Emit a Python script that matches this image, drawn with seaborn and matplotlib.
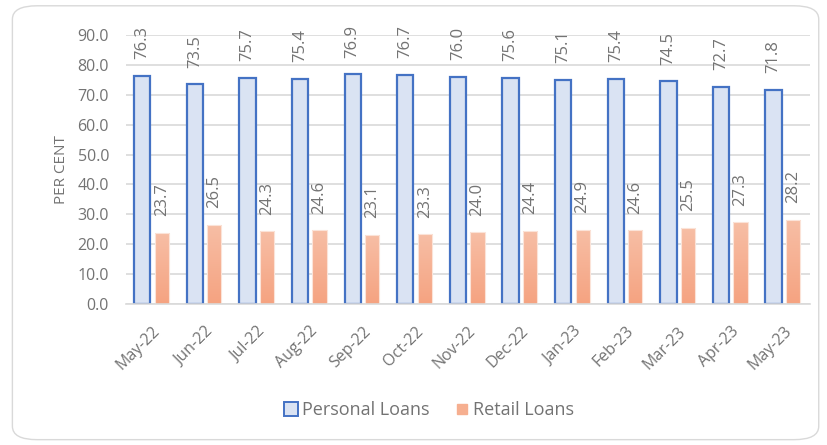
import numpy as np
import pandas as pd
import matplotlib
matplotlib.use("Agg")
import matplotlib.pyplot as plt
import seaborn as sns
from matplotlib.patches import FancyBboxPatch
from matplotlib.lines import Line2D
from matplotlib.colors import LinearSegmentedColormap

# Data
months = ['May-22', 'Jun-22', 'Jul-22', 'Aug-22', 'Sep-22', 'Oct-22', 'Nov-22',
          'Dec-22', 'Jan-23', 'Feb-23', 'Mar-23', 'Apr-23', 'May-23']
personal = [76.3, 73.5, 75.7, 75.4, 76.9, 76.7, 76.0, 75.6, 75.1, 75.4, 74.5, 72.7, 71.8]
retail = [23.7, 26.5, 24.3, 24.6, 23.1, 23.3, 24.0, 24.4, 24.9, 24.6, 25.5, 27.3, 28.2]
series = ['Personal Loans', 'Retail Loans']
yticks = np.arange(0, 91, 10)

df = pd.DataFrame({
    'Month': months * 2,
    'Value': personal + retail,
    'Series': [series[0]] * len(months) + [series[1]] * len(months),
})

sns.set_style('white')
plt.rcParams['font.family'] = ['Open Sans', 'DejaVu Sans']
grey = '#737373'
blue_face, blue_edge = '#DAE3F3', '#4472C4'
orange = '#F6AF90'
grad = LinearSegmentedColormap.from_list('org', ['#F5A381', '#F7BEA5'])

fig = plt.figure(figsize=(8.27, 4.45), dpi=100)
ax = fig.add_axes([0.152, 0.317, 0.827, 0.604])

sns.barplot(data=df, x='Month', y='Value', hue='Series', order=months,
            hue_order=series, palette=[blue_face, orange], width=0.65,
            ax=ax, legend=False)

# adjust individual bar geometry to match the reference
n = len(months)
for i, p in enumerate(ax.patches[:2 * n]):
    cat = i % n
    if i < n:
        p.set_x(cat - 0.34)
        p.set_width(0.31)
        p.set_facecolor(blue_face)
        p.set_edgecolor(blue_edge)
        p.set_linewidth(1.6)
    else:
        p.set_x(cat + 0.05)
        p.set_width(0.27)
        p.set_facecolor('none')
        p.set_edgecolor('#FBE3D8')
        p.set_linewidth(0.8)
        # vertical gradient fill clipped to the bar
        img = ax.imshow(np.linspace(0, 1, 50).reshape(-1, 1), cmap=grad, aspect='auto',
                        origin='lower', extent=(p.get_x(), p.get_x() + p.get_width(), 0, p.get_height()),
                        zorder=p.get_zorder() - 0.1)
        img.set_clip_path(p)
    x = p.get_x() + p.get_width() / 2
    ax.annotate(f'{p.get_height():.1f}', (x, p.get_height()), xytext=(0, 12),
                textcoords='offset points', rotation=90, ha='center', va='bottom',
                fontsize=12, color=grey)

ax.set_ylim(0, 90)
ax.set_xlim(-0.5, n - 0.5)
ax.set_yticks(yticks)
ax.set_yticklabels([f'{v:.1f}' for v in yticks], fontsize=11.5, color=grey)
ax.set_xticks(range(n))
ax.set_xticklabels(months, rotation=45, ha='right', rotation_mode='anchor',
                   fontsize=11.5, color=grey)
ax.tick_params(axis='y', length=0, pad=12)
ax.tick_params(axis='x', length=0, pad=14)
ax.yaxis.grid(True, color='#D9D9D9', linewidth=1.2)
ax.set_axisbelow(True)
for s in ['left', 'right', 'top']:
    ax.spines[s].set_visible(False)
ax.spines['bottom'].set_color('#D9D9D9')
ax.spines['bottom'].set_linewidth(1.2)
ax.set_xlabel('')
ax.set_ylabel('PER CENT', fontsize=11, color=grey)
ax.yaxis.set_label_coords(-0.083, 0.5)

handles = [Line2D([], [], linestyle='none', marker='s', markersize=9.5,
                  markerfacecolor=blue_face, markeredgecolor=blue_edge, markeredgewidth=1.4),
           Line2D([], [], linestyle='none', marker='s', markersize=6.5,
                  markerfacecolor=orange, markeredgecolor=orange)]
fig.legend(handles, series, loc='center', bbox_to_anchor=(0.519, 0.079), ncol=2,
           frameon=False, fontsize=13, labelcolor=grey, handlelength=0.8,
           handletextpad=0.2, columnspacing=1.4)

fig.patches.append(FancyBboxPatch((0.015, 0.012), 0.975, 0.975, boxstyle='round,pad=0,rounding_size=0.03',
                                  transform=fig.transFigure, facecolor='none',
                                  edgecolor='#D9D9D9', linewidth=1.0))

fig.savefig('out.png', dpi=100)
